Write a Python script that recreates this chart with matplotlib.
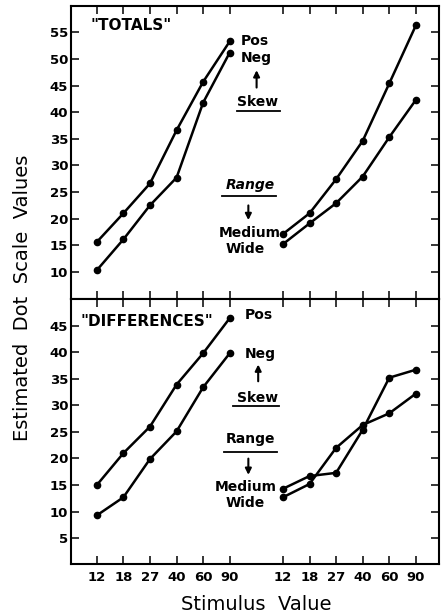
import numpy as np
import matplotlib
matplotlib.use("Agg")
import matplotlib.pyplot as plt

plt.rcParams['font.family'] = ['DejaVu Sans']

# ---- data ----
stimulus = ['12', '18', '27', '40', '60', '90']
tot_pos = [15.6, 21.0, 26.6, 36.6, 45.7, 53.3]
tot_neg = [10.3, 16.1, 22.5, 27.7, 41.8, 51.2]
tot_medium = [17.1, 21.0, 27.4, 34.6, 45.4, 56.3]
tot_wide = [15.2, 19.1, 22.9, 27.9, 35.3, 42.3]
diff_pos = [15.0, 21.0, 26.0, 33.9, 39.8, 46.4]
diff_neg = [9.3, 12.7, 19.9, 25.1, 33.4, 39.8]
diff_medium = [14.3, 16.7, 17.3, 25.4, 35.2, 36.7]
diff_wide = [12.7, 15.2, 22.0, 26.3, 28.5, 32.2]
top_yticks = [10, 15, 20, 25, 30, 35, 40, 45, 50, 55]
bot_yticks = [5, 10, 15, 20, 25, 30, 35, 40, 45]

n = len(stimulus)
x_left = np.arange(n)
x_right = np.arange(n) + n + 1
xticks = np.concatenate([x_left, x_right])
xticklabels = stimulus + stimulus

W, H = 445, 615
fig = plt.figure(figsize=(W / 100, H / 100), dpi=100)
L, R = 71, 439
ax_top = fig.add_axes([L / W, (H - 299) / H, (R - L) / W, (299 - 5.7) / H])
ax_bot = fig.add_axes([L / W, (H - 564.3) / H, (R - L) / W, (564.3 - 299) / H])

line_kw = dict(color='black', lw=1.8, marker='o', ms=4.5)

def style(ax, yticks, ylim, show_x):
    ax.set_xlim(-0.97, 12.87)
    ax.set_ylim(*ylim)
    ax.set_yticks(yticks)
    ax.set_xticks(xticks)
    ax.set_xticklabels(xticklabels if show_x else [])
    ax.tick_params(direction='in', length=6, width=1.1, top=True, right=True,
                   labelsize=9.5, pad=3)
    ax.tick_params(axis='y', pad=2)
    ax.tick_params(axis='x', pad=5)
    for lab in ax.get_xticklabels() + ax.get_yticklabels():
        lab.set_fontweight('bold')
    for s in ax.spines.values():
        s.set_linewidth(1.5)

ax_top.plot(x_left, tot_pos, **line_kw)
ax_top.plot(x_left, tot_neg, **line_kw)
ax_top.plot(x_right, tot_medium, **line_kw)
ax_top.plot(x_right, tot_wide, **line_kw)
style(ax_top, top_yticks, (4.9, 60.0), False)

ax_bot.plot(x_left, diff_pos, **line_kw)
ax_bot.plot(x_left, diff_neg, **line_kw)
ax_bot.plot(x_right, diff_medium, **line_kw)
ax_bot.plot(x_right, diff_wide, **line_kw)
style(ax_bot, bot_yticks, (0.1, 50.0), True)

lab_kw = dict(fontsize=10, fontweight='bold', color='black')
arrow_kw = dict(arrowstyle='-|>', color='black', lw=1.5, mutation_scale=9)

# top panel annotations
ax_top.text(-0.25, 56.2, '"TOTALS"', ha='left', va='center', fontsize=11, fontweight='bold')
ax_top.text(5.4, 52.7, 'Pos', ha='left', va='baseline', **lab_kw)
ax_top.text(5.4, 49.4, 'Neg', ha='left', va='baseline', **lab_kw)
ax_top.annotate('', xy=(6.01, 48.4), xytext=(6.01, 44.1), arrowprops=arrow_kw)
ax_top.text(6.05, 41.1, 'Skew', ha='center', va='baseline', **lab_kw)
ax_top.plot([5.27, 6.89], [40.2, 40.2], color='black', lw=1.3)
ax_top.text(5.79, 25.6, 'Range', ha='center', va='baseline', style='italic', **lab_kw)
ax_top.plot([4.71, 6.74], [24.2, 24.2], color='black', lw=1.3)
ax_top.annotate('', xy=(5.70, 19.2), xytext=(5.70, 23.0), arrowprops=arrow_kw)
ax_top.text(5.75, 16.5, 'Medium', ha='center', va='baseline', **lab_kw)
ax_top.text(5.6, 13.5, 'Wide', ha='center', va='baseline', **lab_kw)

# bottom panel annotations
ax_bot.text(-0.62, 45.8, '"DIFFERENCES"', ha='left', va='center', fontsize=11, fontweight='bold')
ax_bot.text(5.58, 46.2, 'Pos', ha='left', va='baseline', **lab_kw)
ax_bot.text(5.58, 38.9, 'Neg', ha='left', va='baseline', **lab_kw)
ax_bot.annotate('', xy=(6.07, 38.2), xytext=(6.07, 34.0), arrowprops=arrow_kw)
ax_bot.text(6.03, 30.6, 'Skew', ha='center', va='baseline', **lab_kw)
ax_bot.plot([5.12, 6.85], [29.9, 29.9], color='black', lw=1.3)
ax_bot.text(5.78, 23.0, 'Range', ha='center', va='baseline', **lab_kw)
ax_bot.plot([4.79, 6.77], [21.3, 21.3], color='black', lw=1.3)
ax_bot.annotate('', xy=(5.70, 16.4), xytext=(5.70, 20.5), arrowprops=arrow_kw)
ax_bot.text(5.62, 13.8, 'Medium', ha='center', va='baseline', **lab_kw)
ax_bot.text(5.57, 10.9, 'Wide', ha='center', va='baseline', **lab_kw)

fig.text(22.5 / W, 1 - 298 / H, 'Estimated  Dot  Scale  Values', rotation=90,
         ha='center', va='center', fontsize=14)
fig.text(256.5 / W, 1 - 604 / H, 'Stimulus  Value', ha='center', va='center', fontsize=14)

fig.savefig('out.png', dpi=100, facecolor='white')
